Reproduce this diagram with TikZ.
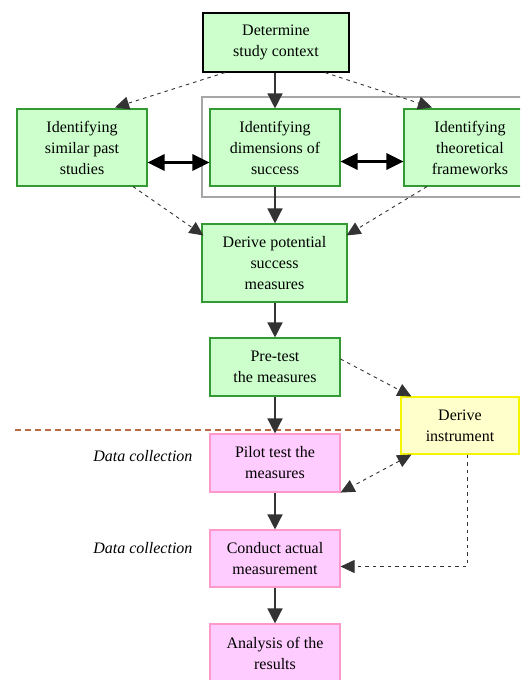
\documentclass[tikz,border=0pt]{standalone}
\usepackage{fontspec}
\setmainfont{Liberation Serif}
\usetikzlibrary{arrows.meta}
\definecolor{fillgreen}{HTML}{CCFFCC}
\definecolor{drawgreen}{HTML}{339933}
\definecolor{fillpink}{HTML}{FFCCFF}
\definecolor{drawpink}{HTML}{FF99CC}
\definecolor{fillyellow}{HTML}{FFFFCC}
\definecolor{drawyellow}{HTML}{F5F500}
\definecolor{brownline}{HTML}{B86B45}
\definecolor{linegray}{HTML}{333333}
\begin{document}
\begin{tikzpicture}[x=1pt,y=-1pt,
  box/.style={rectangle, line width=1.1pt, align=center, inner sep=0pt, text=black,
    font=\fontsize{16}{21}\selectfont},
  gbox/.style={box, draw=drawgreen, fill=fillgreen},
  pbox/.style={box, draw=drawpink, fill=fillpink},
  ybox/.style={box, draw=drawyellow, fill=fillyellow},
  flow/.style={draw=linegray, line width=1.4pt, -{Triangle[length=15pt,width=15pt]}},
  twoway/.style={draw=black, line width=3pt, {Triangle[length=17pt,width=16pt]}-{Triangle[length=17pt,width=16pt]}},
  dflow/.style={draw=linegray, line width=0.9pt, dash pattern=on 3.5pt off 4pt, -{Triangle[length=14pt,width=13pt]}},
  note/.style={anchor=east, font=\fontsize{16}{20}\selectfont\itshape}
]
\useasboundingbox (0,0) rectangle (520,680);
\clip (0,0) rectangle (520,680);
\fill[white] (0,0) rectangle (520,680);

% phase separator
\draw[brownline, line width=1.1pt, dash pattern=on 6pt off 4pt] (15,430) -- (401,430);

% group frame
\draw[draw=gray!70, line width=1.3pt] (202,97) rectangle (540,197);

% nodes
\node[gbox, draw=black, minimum width=146pt, minimum height=59pt] (det) at (276,42.5) {Determine\\study context};
\node[gbox, minimum width=130pt, minimum height=77pt] (past) at (82,147.5) {Identifying\\similar past\\studies};
\node[gbox, minimum width=130pt, minimum height=77pt] (dim) at (275,147.5) {Identifying\\dimensions of\\success};
\node[gbox, minimum width=132pt, minimum height=77pt] (theo) at (470,147.5) {Identifying\\theoretical\\frameworks};
\node[gbox, minimum width=145pt, minimum height=78pt] (pot) at (274.5,263) {Derive potential\\success\\measures};
\node[gbox, minimum width=130pt, minimum height=58pt] (pre) at (275,367) {Pre-test\\the measures};
\node[ybox, minimum width=118pt, minimum height=57pt] (inst) at (460,425.5) {Derive\\instrument};
\node[pbox, minimum width=130pt, minimum height=58pt] (pilot) at (275,463) {Pilot test the\\measures};
\node[pbox, minimum width=130pt, minimum height=57pt] (cond) at (275,558.5) {Conduct actual\\measurement};
\node[pbox, minimum width=130pt, minimum height=58pt] (anal) at (275,653) {Analysis of the\\results};

\node[note] (dc1) at (196,456) {Data collection};
\node[note] (dc2) at (196,548) {Data collection};

% solid flow
\draw[flow] (det.south -| dim.north) -- (dim.north);
\draw[flow] (dim.south) -- (dim.south |- pot.north);
\draw[flow] (pot.south -| pre.north) -- (pre.north);
\draw[flow] (pre.south) -- (pilot.north);
\draw[flow] (pilot.south) -- (cond.north);
\draw[flow] (cond.south) -- (anal.north);

% two-way links
\draw[twoway] ([yshift=-15pt]past.east) -- ([yshift=-15pt]dim.west);
\draw[twoway] ([yshift=-14pt]dim.east) -- ([yshift=-14pt]theo.west);

% dashed links
\draw[dflow] ([xshift=-51pt]det.south) -- ([xshift=33pt,yshift=1pt]past.north);
\draw[dflow] ([xshift=49pt]det.south) -- ([xshift=-38pt,yshift=1pt]theo.north);
\draw[dflow] ([xshift=51pt]past.south) -- ([xshift=2pt,yshift=-12pt]pot.north west);
\draw[dflow] ([xshift=-43pt]theo.south) -- ([xshift=-1pt,yshift=-12pt]pot.north east);
\draw[dflow] ([yshift=8pt]pre.east) -- ([xshift=11pt]inst.north west);
\draw[dflow, {Triangle[length=14pt,width=13pt]}-{Triangle[length=14pt,width=13pt]}] ([xshift=11pt]inst.south west) -- (pilot.south east);
\draw[dflow] ([xshift=7pt]inst.south) |- ([yshift=-8pt]cond.east);
\end{tikzpicture}
\end{document}
